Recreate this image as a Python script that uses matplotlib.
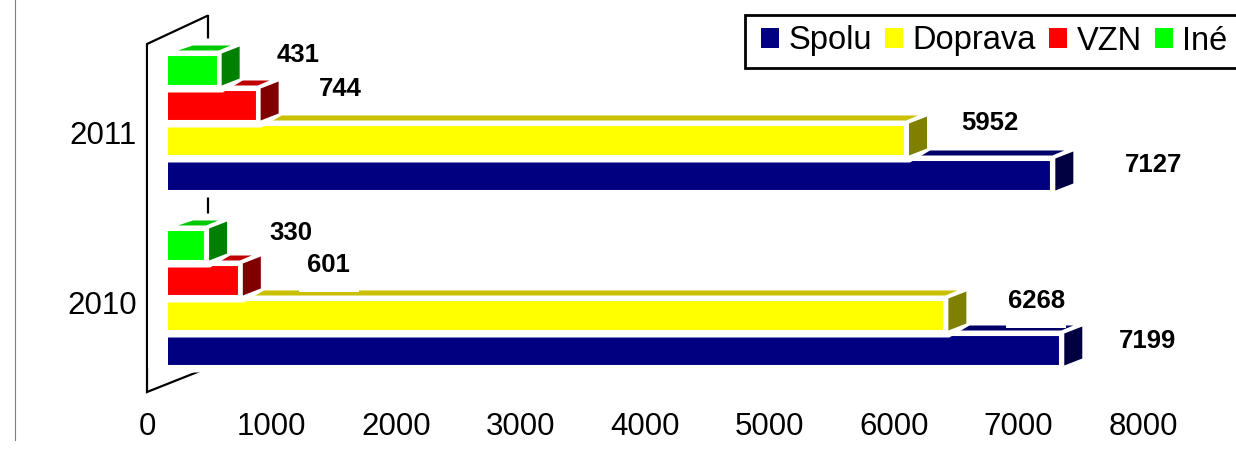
import numpy as np
import matplotlib.pyplot as plt
from matplotlib.lines import Line2D
from matplotlib.patches import Patch, Polygon, Rectangle

years = ["2010", "2011"]
series_names = ["Spolu", "Doprava", "VZN", "Iné"]
spolu = [7199, 7127]
doprava = [6268, 5952]
vzn = [601, 744]
ine = [330, 431]
x_ticks = [0, 1000, 2000, 3000, 4000, 5000, 6000, 7000, 8000]

# farby: predna stena, bocna stena, horna stena
front_colors = ["#000080", "#FFFF00", "#FF0000", "#00FF00"]
side_colors = ["#000040", "#808000", "#800000", "#008000"]
top_colors = ["#000066", "#C8C000", "#C00000", "#00C800"]

# posun popisiek v pixeloch (dx od konca stlpca, dy od vrchu stlpca), rok -> seria
label_dx = [[88, 93, 91, 87], [103, 86, 85, 81]]
label_dy = [[7, 1, 0, 3], [5, -2, 0, 0]]
label_mask = [[False, True, True, False], [False, False, False, False]]

W, H = 1236, 455
plt.rcParams["font.family"] = ["Liberation Sans", "DejaVu Sans"]
fig = plt.figure(figsize=(W / 100, H / 100), dpi=100)
ax = fig.add_axes([147 / W, (H - 392) / H, 996 / W, 376 / H])

# prepocet pixelov na jednotky osi
kx = 8000 / 996
ky = 1 / 175
ax.set_xlim(0, 8000)
ax.set_ylim((297.5 - 392) * ky, (297.5 - 16) * ky)
for s in ax.spines.values():
    s.set_visible(False)


def pt(x, y, dx, dy):
    return (x + dx * kx, y - dy * ky)


# stena grafu
wall_bottom, wall_top = (297.5 - 392) * ky, (297.5 - 44) * ky
ax.plot(
    [60 * kx, 0, 0, 53 * kx],
    [wall_top + 28 * ky, wall_top, wall_bottom, wall_bottom + 21 * ky],
    color="black",
    lw=1.6,
    clip_on=False,
    zorder=1,
    solid_joinstyle="miter",
)
ax.plot(
    [61 * kx, 61 * kx],
    [wall_top + 28 * ky, wall_bottom + 40 * ky],
    color="black",
    lw=1.6,
    clip_on=False,
    zorder=1,
)

depth = 17 * kx
bar_h = 31 * ky
offsets = [-0.3, -0.1, 0.1, 0.3]
zo = 2
for i, values in enumerate([spolu, doprava, vzn, ine]):
    pos = np.arange(len(years)) + offsets[i]
    for p, v in zip(pos, values):
        r = depth + v
        top = p + bar_h / 2
        bot = p - bar_h / 2
        # biele pozadie kvadra
        ax.add_patch(
            Polygon(
                [
                    pt(depth, top, 0, -16),
                    pt(r, top, 25, -16),
                    pt(r, bot, 25, -5),
                    pt(r, bot, 5, 7),
                    pt(depth, bot, 0, 7),
                ],
                facecolor="white",
                edgecolor="none",
                zorder=zo,
            )
        )
        # horna stena
        ax.add_patch(
            Polygon(
                [
                    pt(depth, top, 14, -4),
                    pt(depth, top, 29, -9),
                    pt(r, top, 13, -9),
                    pt(r, top, 1, -4),
                ],
                facecolor=top_colors[i],
                edgecolor="none",
                zorder=zo + 0.1,
            )
        )
        # bocna stena
        ax.add_patch(
            Polygon(
                [
                    pt(r, top, 4, -1),
                    pt(r, top, 22, -8),
                    pt(r, bot, 22, -7),
                    pt(r, bot, 4, 0),
                ],
                facecolor=side_colors[i],
                edgecolor="none",
                zorder=zo + 0.1,
            )
        )
    ax.barh(
        pos,
        values,
        height=bar_h,
        left=depth,
        color=front_colors[i],
        edgecolor="white",
        linewidth=1.5,
        zorder=zo + 0.2,
    )
    zo += 1

# biely pas pred zaciatkom stlpcov
ax.add_patch(
    Rectangle(
        (1 * kx, wall_bottom + 24 * ky),
        20 * kx,
        322 * ky,
        facecolor="white",
        edgecolor="none",
        zorder=zo,
    )
)

# popisky hodnot
for i, values in enumerate([spolu, doprava, vzn, ine]):
    for j, v in enumerate(values):
        top = j + offsets[i] + bar_h / 2
        x, y = pt(depth + v, top, label_dx[j][i] - 1, label_dy[j][i])
        if label_mask[j][i]:
            ax.add_patch(
                Rectangle(
                    (x - 30 * kx, y - 27.5 * ky),
                    60 * kx,
                    40 * ky,
                    facecolor="white",
                    edgecolor="none",
                    zorder=zo + 1,
                )
            )
        ax.text(
            x,
            y,
            str(v),
            ha="center",
            va="center",
            fontsize=18.5,
            fontweight="bold",
            color="black",
            clip_on=False,
            zorder=zo + 2,
        )

ax.set_xticks(x_ticks)
ax.set_xticklabels([str(t) for t in x_ticks], fontsize=22.5)
ax.set_yticks([-5.5 * ky, 1 - 10.5 * ky])
ax.set_yticklabels(years, fontsize=22.5)
ax.tick_params(axis="both", length=0)
ax.tick_params(axis="x", pad=14.5)
ax.tick_params(axis="y", pad=7.5)
ax.patch.set_visible(False)

# ramik legendy presahuje za pravy okraj obrazka
fig.add_artist(
    Rectangle(
        (745 / W, (H - 68) / H),
        500 / W,
        53 / H,
        facecolor="white",
        edgecolor="black",
        lw=2,
        transform=fig.transFigure,
    )
)
handles = [Patch(facecolor=c, edgecolor="none") for c in front_colors]
leg = fig.legend(
    handles,
    series_names,
    ncol=4,
    loc="center left",
    bbox_to_anchor=(761 / W, (H - 41) / H),
    fontsize=23.5,
    frameon=False,
    borderaxespad=0,
    borderpad=0,
    handlelength=0.55,
    handleheight=0.55,
    handletextpad=0.28,
    columnspacing=0.42,
)

# tenka zvisla ciara vlavo
fig.add_artist(Line2D([15 / W, 15 / W], [(H - 440) / H, 1], color="#808080", lw=0.8))

fig.savefig("out.png", dpi=100)
